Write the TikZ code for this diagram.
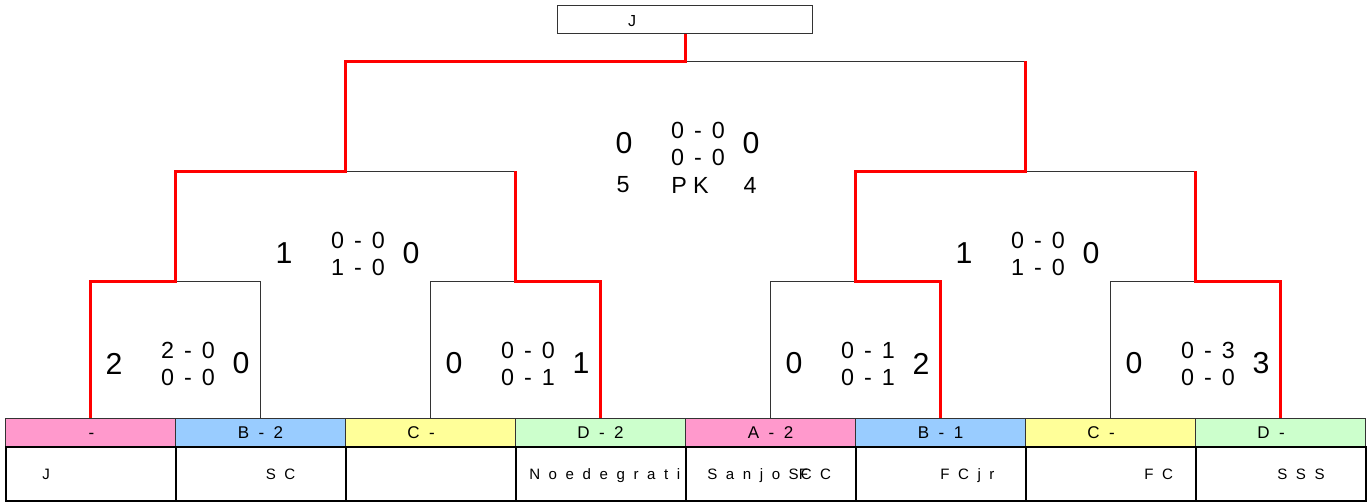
\documentclass[tikz,border=0pt]{standalone}
\usepackage{fontspec}
\setmainfont{Liberation Sans}
\newfontfamily\hdfamily[LetterSpace=28]{Liberation Sans}
\newfontfamily\nmfamily[LetterSpace=57]{Liberation Sans}
\newfontfamily\blkfamily[LetterSpace=15]{Liberation Sans}
\newfontfamily\pkfamily[LetterSpace=27]{Liberation Sans}
\definecolor{cpink}{RGB}{255,153,204}
\definecolor{cblue}{RGB}{153,204,255}
\definecolor{cyellow}{RGB}{255,255,153}
\definecolor{cgreen}{RGB}{204,255,204}
\begin{document}
\begin{tikzpicture}[x=0.75pt,y=-0.75pt,
  hcell/.style={draw=black!80, line width=0.75pt, minimum width=127.5pt, minimum height=21pt, inner sep=0pt, anchor=north west, font=\hdfamily\fontsize{12.75}{14}\selectfont},
  ncell/.style={draw=black, line width=1.5pt, minimum width=127.5pt, minimum height=40.5pt, inner sep=0pt, anchor=north west},
  nm/.style={font=\nmfamily\fontsize{11.3}{13}\selectfont, inner sep=0pt, anchor=base west},
  big/.style={font=\fontsize{22.7}{24}\selectfont, inner sep=0pt},
  blk/.style={font=\blkfamily\fontsize{17.5}{19}\selectfont, inner sep=0pt},
  pkrow/.style={font=\pkfamily\fontsize{17.5}{19}\selectfont, inner sep=0pt},
  thinline/.style={draw=black!80, line width=0.75pt},
  win/.style={draw=red, line width=2.25pt},
  champbox/.style={draw=black!80, line width=0.75pt, minimum width=191.25pt, minimum height=21pt, inner sep=0pt}
]
\useasboundingbox (0,0) rectangle (1371,501);

% header cells
\foreach \i/\col/\lab in {1/cpink/{\phantom{A }-\phantom{ 2}},2/cblue/{B - 2},3/cyellow/{C - \phantom{2}},4/cgreen/{D - 2},5/cpink/{A - 2},6/cblue/{B - 1},7/cyellow/{C - \phantom{2}},8/cgreen/{D - \phantom{2}}}
  \node[hcell, fill=\col] (h\i) at ({5+170*(\i-1)},418) {\vphantom{B}\lab};
% name cells
\foreach \i in {1,...,8}
  \node[ncell] (n\i) at ({5+170*(\i-1)},446) {};
\node[nm] (t1) at (42,479.5) {J};
\node[nm] (t2) at (265.5,479.5) {SC};
\node[nm] (t4) at (529,479.5) {Noedegrati};
\node[nm] (t5) at (707,479.5) {SanjoS\rlap{F}\kern1.5pt CC};
\node[nm] (t6) at (940,479.5) {FCjr};
\node[nm] (t7) at (1144,479.5) {FC};
\node[nm] (t8) at (1277,479.5) {SSS};

% champion box
\node[champbox] (champ) at (685,19.3) {};
\node[inner sep=0pt, anchor=base, font=\fontsize{12}{14}\selectfont] (ct) at (632,26.7) {J};

% junctions
\coordinate (m1) at (175,281);
\coordinate (m2) at (515,281);
\coordinate (m3) at (855,281);
\coordinate (m4) at (1195,281);
\coordinate (s1) at (345,171);
\coordinate (s2) at (1025,171);
\coordinate (f) at (685,61);

% losing branches
\draw[thinline] (h2.north) |- (m1);
\draw[thinline] (h3.north) |- (m2);
\draw[thinline] (h5.north) |- (m3);
\draw[thinline] (h7.north) |- (m4);
\draw[thinline] (s1) -- (s1 -| m2);
\draw[thinline] (s2) -- (s2 -| m4);
\draw[thinline] (f) -- (f -| s2);
% winning branches
\draw[win] (h1.north) |- (m1) |- (s1) |- (f) -- (champ.south);
\draw[win] (h4.north) |- (m2) -- (m2 |- s1);
\draw[win] (h6.north) |- (m3) |- (s2) -- (s2 |- f);
\draw[win] (h8.north) |- (m4) -- (m4 |- s2);

% scores
\foreach \c/\y/\a/\p/\q/\b/\n in {175/363.5/2/{2 - 0}/{0 - 0}/0/a,515/363.5/0/{0 - 0}/{0 - 1}/1/b,855/363.5/0/{0 - 1}/{0 - 1}/2/c,1195/363.5/0/{0 - 3}/{0 - 0}/3/d,345/253.5/1/{0 - 0}/{1 - 0}/0/e,1025/253.5/1/{0 - 0}/{1 - 0}/0/g,685/143.5/0/{0 - 0}/{0 - 0}/0/k}
{
  \node[big] (\n L) at ({\c-61},\y) {\a};
  \node[big] (\n R) at ({\c+66},\y) {\b};
  \node[blk] (\n P) at ({\c+13},{\y-13.5}) {\p};
  \node[blk] (\n Q) at ({\c+13},{\y+13.5}) {\q};
}
\node[pkrow] (pk1) at (623,185) {5};
\node[pkrow] (pk2) at (690,185) {PK};
\node[pkrow] (pk3) at (750,185) {4};
\end{tikzpicture}
\end{document}
